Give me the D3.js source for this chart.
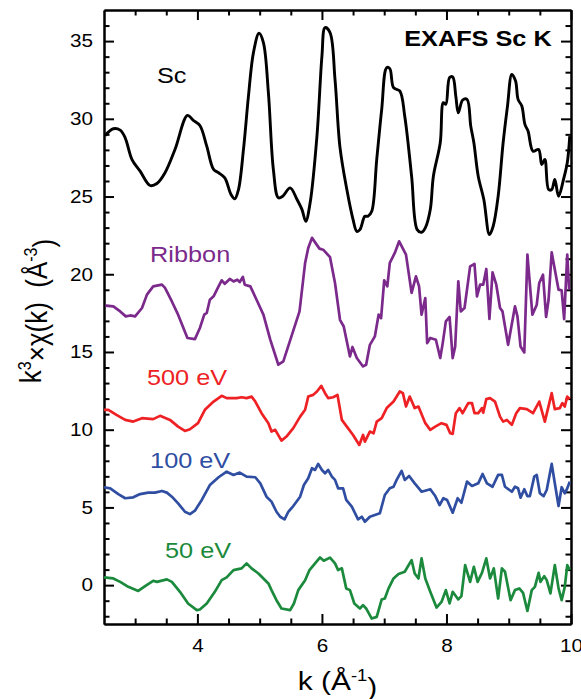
<!DOCTYPE html>
<html lang="en">
<head>
<meta charset="utf-8">
<title>EXAFS Sc K</title>
<style>
  body { margin: 0; background: #fff; }
  text { font-family: "Liberation Sans", Arial, sans-serif; }
</style>
</head>
<body>
<div id="chart"></div>
<script src="https://cdn.jsdelivr.net/npm/d3@7"></script>
<script>
// k (1/A) and k^3 chi(k), curves already stacked with offsets
const scData = [
  [2.52,28.93],[2.65,29.36],[2.76,29.27],[2.84,28.78],[2.95,27.38],[3.08,26.63],[3.24,25.71],[3.35,25.84],
  [3.48,26.53],[3.64,28.03],[3.84,30.22],[3.93,29.92],[4.04,29.57],[4.15,28.24],[4.26,26.74],[4.34,26.53],
  [4.44,26.20],[4.54,25.13],[4.60,24.85],[4.66,25.45],[4.74,28.03],[4.82,31.46],[4.90,34.26],[4.99,35.50],
  [5.06,34.90],[5.14,31.68],[5.22,26.74],[5.30,24.92],[5.37,25.02],[5.49,25.56],[5.60,24.81],[5.68,24.16],
  [5.74,23.41],[5.81,24.59],[5.92,28.89],[6.00,34.04],[6.05,35.87],[6.13,35.55],[6.21,32.54],[6.29,28.16],
  [6.40,25.45],[6.50,23.52],[6.56,22.76],[6.61,22.87],[6.69,23.73],[6.74,23.73],[6.80,24.05],[6.88,27.38],
  [6.96,30.61],[7.04,33.29],[7.09,33.23],[7.15,32.00],[7.25,31.79],[7.33,30.17],[7.44,26.31],[7.53,22.87],
  [7.60,22.70],[7.66,22.98],[7.74,24.16],[7.79,26.31],[7.90,28.46],[7.95,31.04],[7.99,30.93],[8.05,32.65],
  [8.10,32.69],[8.15,31.46],[8.19,30.39],[8.26,31.21],[8.33,31.25],[8.39,29.53],[8.44,28.46],[8.51,26.31],
  [8.60,24.81],[8.69,22.55],[8.75,23.09],[8.83,25.02],[8.91,28.46],[8.98,30.82],[9.05,32.86],[9.11,32.43],
  [9.15,31.25],[9.21,30.82],[9.26,29.64],[9.31,29.21],[9.39,27.92],[9.48,28.03],[9.53,27.06],[9.58,27.38],
  [9.64,25.45],[9.69,25.45],[9.74,26.10],[9.80,25.02],[9.88,26.10],[9.94,27.17],[9.98,28.89]
];
const ribbonData = [
  [2.52,17.98],[2.65,17.93],[2.76,17.61],[2.85,17.29],[2.92,17.35],[3.00,17.29],[3.11,17.83],[3.19,18.69],
  [3.29,19.22],[3.43,19.33],[3.48,19.12],[3.59,18.25],[3.69,17.40],[3.84,15.90],[3.96,15.83],[4.04,16.54],
  [4.11,17.40],[4.15,17.51],[4.20,18.36],[4.26,18.58],[4.34,19.22],[4.39,19.61],[4.44,19.39],[4.52,19.70],
  [4.58,19.54],[4.64,19.65],[4.68,19.50],[4.73,19.83],[4.76,19.33],[4.85,19.22],[4.95,18.36],[5.06,17.40],
  [5.17,15.79],[5.30,14.18],[5.38,14.39],[5.51,16.00],[5.64,17.61],[5.73,20.73],[5.78,21.69],[5.84,22.34],
  [5.96,21.65],[6.02,21.58],[6.13,21.10],[6.21,19.44],[6.29,17.07],[6.35,16.64],[6.45,14.71],[6.49,15.32],
  [6.56,14.61],[6.66,14.07],[6.71,14.18],[6.77,15.46],[6.85,16.00],[6.91,17.40],[6.95,17.18],[7.00,19.61],
  [7.05,19.22],[7.09,20.73],[7.17,21.37],[7.24,22.12],[7.35,21.26],[7.44,18.80],[7.51,19.86],[7.56,19.22],
  [7.60,17.40],[7.66,18.47],[7.69,15.57],[7.74,15.90],[7.83,15.79],[7.90,14.61],[7.94,15.57],[7.99,16.97],
  [8.05,17.25],[8.10,14.61],[8.14,15.35],[8.19,19.54],[8.23,17.61],[8.29,17.83],[8.38,20.51],[8.45,20.66],
  [8.49,18.58],[8.54,19.33],[8.59,19.33],[8.64,20.34],[8.69,17.12],[8.74,20.12],[8.80,19.33],[8.86,17.83],
  [8.90,17.61],[8.99,15.46],[9.10,17.93],[9.14,17.29],[9.19,15.35],[9.25,14.97],[9.30,21.26],[9.38,17.40],
  [9.45,18.04],[9.49,19.44],[9.55,19.97],[9.60,17.25],[9.64,18.36],[9.69,21.41],[9.74,20.30],[9.80,19.01],
  [9.85,18.96],[9.89,17.12],[9.94,21.26],[9.97,19.01]
];
const ev500Data = [
  [2.50,11.28],[2.57,11.28],[2.70,10.95],[2.84,10.63],[2.97,10.52],[3.11,10.74],[3.29,10.68],[3.40,10.89],
  [3.56,10.63],[3.69,10.20],[3.80,9.92],[3.88,10.03],[4.01,10.42],[4.12,11.28],[4.26,11.81],[4.39,12.18],
  [4.47,12.03],[4.63,12.03],[4.71,12.09],[4.79,12.03],[4.87,12.13],[4.93,11.81],[5.03,11.06],[5.14,10.42],
  [5.19,9.88],[5.25,9.99],[5.35,9.30],[5.43,9.56],[5.54,10.10],[5.65,10.84],[5.73,11.28],[5.78,12.13],
  [5.86,12.24],[5.92,12.46],[5.99,12.82],[6.05,12.35],[6.10,12.03],[6.18,12.09],[6.25,12.24],[6.32,10.63],
  [6.40,10.20],[6.50,9.66],[6.60,9.02],[6.66,9.66],[6.69,9.23],[6.77,9.88],[6.83,9.77],[6.88,10.52],
  [6.96,10.74],[7.04,11.39],[7.15,11.81],[7.25,12.46],[7.30,12.35],[7.35,11.49],[7.41,12.13],[7.49,11.39],
  [7.55,11.49],[7.66,10.42],[7.74,9.99],[7.82,10.20],[7.92,10.42],[8.00,10.31],[8.06,9.77],[8.10,9.73],
  [8.15,11.06],[8.21,11.39],[8.26,11.06],[8.35,11.71],[8.41,11.71],[8.45,11.06],[8.51,11.06],[8.57,11.39],
  [8.59,11.10],[8.64,11.97],[8.70,12.03],[8.78,11.81],[8.86,10.84],[8.91,10.52],[8.97,10.63],[9.05,10.31],
  [9.12,11.06],[9.18,11.39],[9.29,11.32],[9.39,11.06],[9.49,11.81],[9.58,10.52],[9.69,12.35],[9.74,11.32],
  [9.82,11.39],[9.86,11.71],[9.90,11.49],[9.94,12.13],[9.98,11.97]
];
const ev100Data = [
  [2.50,6.30],[2.60,6.23],[2.73,5.86],[2.84,5.59],[2.97,5.65],[3.08,5.86],[3.21,5.95],[3.32,5.95],
  [3.43,6.06],[3.51,5.95],[3.59,5.69],[3.69,5.26],[3.80,4.72],[3.88,4.57],[3.96,4.79],[4.07,5.48],
  [4.20,6.44],[4.34,6.94],[4.47,7.30],[4.58,7.09],[4.68,7.24],[4.79,6.98],[4.93,6.94],[5.01,6.55],
  [5.11,5.69],[5.19,5.37],[5.27,4.72],[5.33,4.40],[5.40,4.23],[5.46,4.72],[5.54,5.09],[5.65,5.69],
  [5.71,6.44],[5.78,6.88],[5.84,7.52],[5.89,7.41],[5.94,7.80],[6.00,7.41],[6.05,7.20],[6.10,7.41],
  [6.16,6.98],[6.21,6.77],[6.26,6.23],[6.34,6.23],[6.39,5.48],[6.48,5.05],[6.58,4.23],[6.64,4.40],
  [6.69,4.08],[6.77,4.40],[6.85,4.51],[6.93,4.62],[7.01,5.80],[7.09,6.23],[7.15,6.33],[7.20,6.77],
  [7.28,7.35],[7.33,6.77],[7.40,7.02],[7.49,6.55],[7.60,6.01],[7.74,6.17],[7.82,5.73],[7.89,5.15],
  [7.95,5.59],[8.01,5.48],[8.10,4.66],[8.18,5.59],[8.24,5.30],[8.33,6.66],[8.41,6.38],[8.51,6.55],
  [8.58,7.15],[8.65,6.55],[8.74,6.33],[8.83,7.09],[8.89,7.09],[8.94,6.33],[9.05,6.01],[9.10,6.33],
  [9.15,6.23],[9.19,5.63],[9.25,6.17],[9.30,5.73],[9.34,5.73],[9.41,6.98],[9.45,7.09],[9.50,5.91],
  [9.56,5.73],[9.61,6.12],[9.69,7.80],[9.74,6.55],[9.80,5.09],[9.85,6.30],[9.90,5.91],[9.94,6.23],
  [9.98,6.66]
];
const ev50Data = [
  [2.50,0.50],[2.65,0.43],[2.76,0.21],[2.89,-0.11],[3.05,-0.37],[3.16,-0.06],[3.29,0.28],[3.35,0.21],
  [3.51,0.37],[3.59,0.21],[3.72,-0.43],[3.85,-1.18],[3.99,-1.61],[4.04,-1.57],[4.15,-1.18],[4.28,-0.43],
  [4.39,0.32],[4.47,0.50],[4.58,0.97],[4.71,1.08],[4.79,1.40],[4.87,1.08],[4.98,0.75],[5.06,0.43],
  [5.14,0.11],[5.19,-0.32],[5.27,-0.97],[5.35,-1.50],[5.49,-1.61],[5.55,-1.18],[5.62,-0.32],[5.73,0.32],
  [5.80,0.97],[5.89,1.40],[5.97,1.78],[6.03,1.57],[6.13,1.77],[6.21,1.40],[6.26,0.97],[6.32,1.08],
  [6.39,-0.21],[6.45,-0.32],[6.52,-1.18],[6.61,-1.50],[6.66,-1.29],[6.71,-1.50],[6.80,-2.15],[6.88,-2.04],
  [6.96,-0.92],[7.01,-0.86],[7.07,-0.21],[7.15,0.43],[7.23,0.71],[7.33,0.86],[7.44,1.61],[7.49,0.75],
  [7.55,0.43],[7.60,1.72],[7.66,0.43],[7.74,-0.43],[7.84,-1.44],[7.92,-1.08],[7.99,-0.32],[8.05,-1.18],
  [8.10,-0.43],[8.19,-0.92],[8.24,-0.71],[8.30,1.29],[8.38,0.21],[8.44,1.18],[8.50,0.21],[8.57,0.79],
  [8.64,1.72],[8.70,0.43],[8.76,1.08],[8.83,-0.86],[8.89,1.08],[8.94,0.86],[9.03,-0.97],[9.10,-0.32],
  [9.17,-0.21],[9.23,-0.50],[9.30,-1.66],[9.37,-0.32],[9.42,-0.11],[9.48,0.79],[9.51,0.21],[9.57,0.58],
  [9.61,0.32],[9.67,-0.53],[9.74,1.29],[9.80,-0.21],[9.85,-0.97],[9.90,-0.11],[9.94,1.29],[9.98,0.97]
];

const seriesNames = ["Sc", "Ribbon", "500 eV", "100 eV", "50 eV"];
const seriesColors = ["#000000", "#7b2a8c", "#ee2124", "#2f4ea2", "#1b8a3d"];
const xMajorTicks = [4, 6, 8, 10];
const yMajorTicks = [0, 5, 10, 15, 20, 25, 30, 35];

const series = [scData, ribbonData, ev500Data, ev100Data, ev50Data].map((d, i) => ({
  name: seriesNames[i], data: d, color: seriesColors[i]
}));

const W = 581, H = 699;
const mLeft = 104, mRight = 571, mTop = 10, mBottom = 624;
const sx = 1.15; // the original lettering is a bit wider than Arial

const svg = d3.select("#chart").append("svg")
  .attr("width", W).attr("height", H);

const x = d3.scaleLinear().domain([2.5, 10]).range([mLeft, mRight]);
const y = d3.scaleLinear().domain([-2.5, 37]).range([mBottom, mTop]);

const xMinor = d3.range(3, 10, 0.5).filter(v => xMajorTicks.indexOf(v) < 0);
const yMinor = d3.range(-2, 37, 1).filter(v => yMajorTicks.indexOf(v) < 0);

// makeAxis returns a fresh d3 axis each time (minor + major ticks drawn separately)
function frameAxis(makeAxis, tr, major, minor, labels) {
  const gMin = svg.append("g").attr("transform", tr)
    .call(makeAxis().tickValues(minor).tickFormat("").tickSizeInner(-5.5).tickSizeOuter(0));
  const g = svg.append("g").attr("transform", tr)
    .call(makeAxis().tickValues(major).tickSizeInner(-10).tickSizeOuter(0)
      .tickFormat(labels ? d3.format("d") : ""));
  [gMin, g].forEach(a => {
    a.selectAll("path,line").attr("stroke", "#000").attr("stroke-width", 2);
  });
  g.selectAll("text").attr("font-size", 18).attr("fill", "#000")
    .attr("font-family", '"Liberation Sans", Arial, sans-serif');
  return g;
}

const gx = frameAxis(() => d3.axisBottom(x).tickPadding(15), `translate(0,${mBottom})`, xMajorTicks, xMinor, true);
gx.selectAll("text").attr("transform", `scale(${sx},1)`);
frameAxis(() => d3.axisTop(x), `translate(0,${mTop})`, xMajorTicks, xMinor, false);
const gy = frameAxis(() => d3.axisLeft(y).tickPadding(9.5), `translate(${mLeft},0)`, yMajorTicks, yMinor, true);
gy.selectAll("text").attr("transform", `scale(${sx},1)`);
frameAxis(() => d3.axisRight(y), `translate(${mRight},0)`, yMajorTicks, yMinor, false);

// curves: the Sc reference is a smooth trace, the film spectra are noisy
const smoothLine = d3.line().curve(d3.curveCatmullRom.alpha(0.5)).x(d => x(d[0])).y(d => y(d[1]));
const line = d3.line().x(d => x(d[0])).y(d => y(d[1]));
svg.append("g").selectAll("path")
  .data(series).enter()
  .append("path")
  .attr("fill", "none")
  .attr("stroke", d => d.color)
  .attr("stroke-width", (d, i) => i === 0 ? 2.9 : 2.7)
  .attr("stroke-linejoin", "round")
  .attr("d", (d, i) => (i === 0 ? smoothLine : line)(d.data));

function addText(px, py, size, color, anchor) {
  return svg.append("text")
    .attr("transform", `translate(${px},${py}) scale(${sx},1)`)
    .attr("font-size", size).attr("fill", color)
    .attr("text-anchor", anchor || "start");
}

// curve names
const labelPos = [[3.35, 32.3], [3.24, 20.8], [3.19, 12.9], [3.24, 7.55], [3.48, 1.75]];
series.forEach((s, i) => {
  addText(x(labelPos[i][0]), y(labelPos[i][1]), 22, s.color).text(s.name);
});

addText(x(9.69), y(34.66), 22, "#000", "end")
  .attr("font-weight", "bold").text("EXAFS Sc K");

// x axis title
const xt = addText((mLeft + mRight) / 2, 690, 26, "#000", "middle");
xt.append("tspan").text("k (Å");
xt.append("tspan").attr("dy", "-0.55em").attr("font-size", 16).text("-1");
xt.append("tspan").attr("dy", "0.55em").text(")");

// y axis title
const yt = svg.append("text")
  .attr("transform", `translate(41,${(mTop + mBottom) / 2 - 6}) scale(${sx},1) rotate(-90)`)
  .attr("font-size", 26).attr("text-anchor", "middle").attr("fill", "#000")
  .style("white-space", "pre");
yt.append("tspan").text("k");
yt.append("tspan").attr("dy", "-0.55em").attr("font-size", 16).text("3");
yt.append("tspan").attr("dy", "0.55em").text("×χ(k)  (Å");
yt.append("tspan").attr("dy", "-0.55em").attr("font-size", 16).text("-3");
yt.append("tspan").attr("dy", "0.55em").text(")");
</script>
</body>
</html>
